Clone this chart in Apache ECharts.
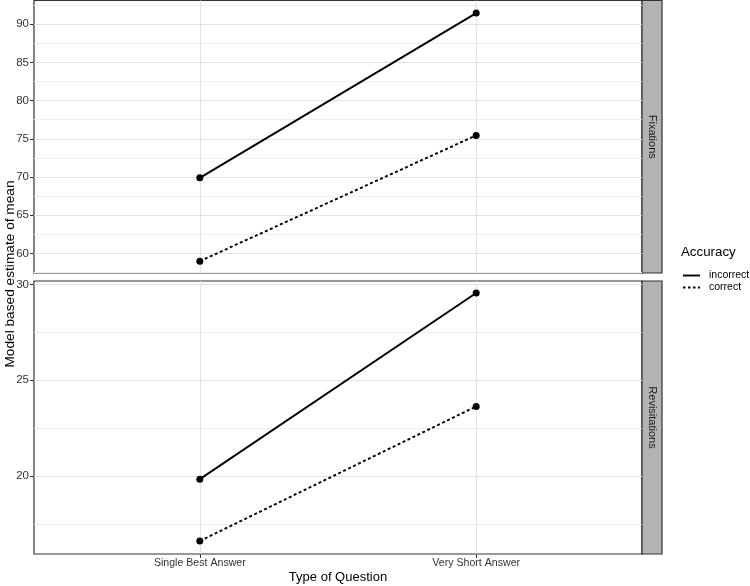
<!DOCTYPE html>
<html>
<head>
<meta charset="utf-8">
<script src="https://cdn.jsdelivr.net/npm/echarts@6/dist/echarts.min.js"></script>
<style>
  html, body { margin: 0; padding: 0; background: #fff; }
  #main { width: 750px; height: 586px; }
</style>
</head>
<body>
<div id="main"></div>
<script>
// categories on x (placed at 1 and 2 like a discrete ggplot axis)
const questionTypes = ['Single Best Answer', 'Very Short Answer'];
const facets = ['Fixations', 'Revisitations'];

// model based estimates
const fixIncorrect = [69.9, 91.45];
const fixCorrect = [59.0, 75.45];
const revIncorrect = [19.83, 29.55];
const revCorrect = [16.6, 23.63];

// tick labels
const fixTicks = [60, 65, 70, 75, 80, 85, 90];
const fixMinor = [57.5, 62.5, 67.5, 72.5, 77.5, 82.5, 87.5, 92.5];
const revTicks = [20, 25, 30];
const revMinor = [17.5, 22.5, 27.5];

const font = 'Liberation Sans';
const chart = echarts.init(document.getElementById('main'));

const pts = vals => vals.map((v, i) => [i + 1, v]);

function lineSeries(name, vals, gi, dashed) {
    return {
        name: name,
        type: 'line',
        xAxisIndex: gi,
        yAxisIndex: gi * 2,
        data: pts(vals),
        symbol: 'circle',
        symbolSize: 7,
        itemStyle: { color: '#000' },
        lineStyle: { color: '#000', width: 1.9, type: dashed ? [3, 2.5] : 'solid' },
        animation: false,
        z: 5
    };
}

function xAx(gi, bottom) {
    return {
        type: 'value', gridIndex: gi, min: 0.4, max: 2.6,
        axisLine: { show: false },
        axisTick: { show: bottom, customValues: [1, 2], length: 4, lineStyle: { color: '#333' } },
        axisLabel: {
            show: bottom, customValues: [1, 2], margin: 4,
            color: '#333', fontSize: 10.6, fontFamily: font,
            formatter: v => questionTypes[Math.round(v) - 1] || ''
        },
        splitLine: { show: true, lineStyle: { color: '#E3E3E3', width: 1 } },
        name: bottom ? 'Type of Question' : '',
        nameLocation: 'middle', nameGap: 17,
        nameTextStyle: { color: '#000', fontSize: 13, fontFamily: font }
    };
}

function yMajor(gi, min, max, ticks) {
    return {
        type: 'value', gridIndex: gi, min: min, max: max,
        axisLine: { show: false },
        axisTick: { show: true, customValues: ticks, length: 4, lineStyle: { color: '#333' } },
        axisLabel: { customValues: ticks, margin: 5, color: '#333', fontSize: 11.5, fontFamily: font },
        splitLine: { show: true, lineStyle: { color: '#E3E3E3', width: 1 } }
    };
}

function yMinor(gi, min, max, ticks) {
    return {
        type: 'value', gridIndex: gi, min: min, max: max, position: 'left',
        axisLine: { show: false },
        axisTick: { show: false, customValues: ticks },
        axisLabel: { show: false, customValues: ticks },
        splitLine: { show: true, lineStyle: { color: '#EFEFEF', width: 1 } }
    };
}

const strip = (y, h, label) => ({
    type: 'group',
    children: [
        { type: 'rect', shape: { x: 642, y: y, width: 20, height: h },
          style: { fill: '#B3B3B3', stroke: '#333', lineWidth: 1.2 } },
        { type: 'text', x: 652, y: y + h / 2, rotation: -Math.PI / 2,
          style: { text: label, fill: '#1A1A1A', font: '11px ' + font, align: 'center', verticalAlign: 'middle' } }
    ]
});

const gridBase = { left: 34, width: 608, show: true, borderColor: '#333', borderWidth: 1.2, backgroundColor: 'transparent', outerBoundsMode: 'none', containLabel: false };

chart.setOption({
    backgroundColor: '#fff',
    grid: [
        Object.assign({ top: 0.5, height: 272.5 }, gridBase),
        Object.assign({ top: 281, height: 273 }, gridBase)
    ],
    xAxis: [xAx(0, false), xAx(1, true)],
    yAxis: [
        yMajor(0, 57.45, 93.1, fixTicks),
        yMinor(0, 57.45, 93.1, fixMinor),
        yMajor(1, 15.92, 30.18, revTicks),
        yMinor(1, 15.92, 30.18, revMinor)
    ],
    series: [
        lineSeries('incorrect', fixIncorrect, 0, false),
        lineSeries('correct', fixCorrect, 0, true),
        lineSeries('incorrect', revIncorrect, 1, false),
        lineSeries('correct', revCorrect, 1, true)
    ],
    graphic: [
        strip(0.5, 272.5, facets[0]),
        strip(281, 273, facets[1]),
        { type: 'text', x: 10, y: 274, rotation: Math.PI / 2,
          style: { text: 'Model based estimate of mean', fill: '#000', font: '13.7px ' + font, align: 'center', verticalAlign: 'middle' } },
        { type: 'text', x: 681, y: 252,
          style: { text: 'Accuracy', fill: '#000', font: '13.3px ' + font, align: 'left', verticalAlign: 'middle' } },
        { type: 'line', shape: { x1: 683, y1: 275.5, x2: 700, y2: 275.5 }, style: { stroke: '#000', lineWidth: 1.9 } },
        { type: 'text', x: 709, y: 275.5,
          style: { text: 'incorrect', fill: '#000', font: '10.5px ' + font, align: 'left', verticalAlign: 'middle' } },
        { type: 'line', shape: { x1: 683, y1: 287.5, x2: 700, y2: 287.5 }, style: { stroke: '#000', lineWidth: 1.9, lineDash: [2.5, 2.5] } },
        { type: 'text', x: 709, y: 287.5,
          style: { text: 'correct', fill: '#000', font: '10.5px ' + font, align: 'left', verticalAlign: 'middle' } }
    ]
});
</script>
</body>
</html>
